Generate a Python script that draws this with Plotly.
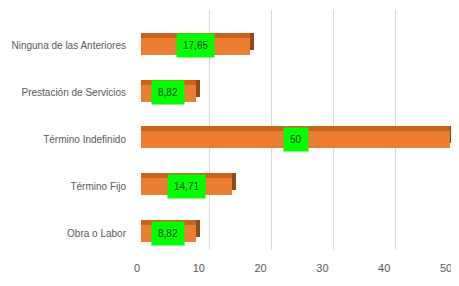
import plotly.graph_objects as go

categories = ["Obra o Labor", "Término Fijo", "Término Indefinido",
              "Prestación de Servicios", "Ninguna de las Anteriores"]
values = [8.82, 14.71, 50, 8.82, 17.65]
value_labels = ["8,82", "14,71", "50", "8,82", "17,65"]
tick_vals = [0, 10, 20, 30, 40, 50]

W, H = 459, 286
OFF = 8  # page body margin
def px_x(a, b):
    return [(a - OFF) / W, (b - OFF) / W]
def px_y(top, bottom):
    return [1 - (bottom - OFF) / H, 1 - (top - OFF) / H]

FONT = "Liberation Sans Narrow, Liberation Sans, Arial"
GREY = "#595959"
ORANGE = "#ED7D31"
TOP = "#C9641F"
SIDE = "#8E4A1A"

fig = go.Figure()

# back wall grid (invisible trace to anchor axis)
fig.add_trace(go.Scatter(x=[0, 50], y=[0, 0], mode="markers", marker=dict(opacity=0),
                         xaxis="x", yaxis="y", hoverinfo="skip", showlegend=False))
# side face (depth)
fig.add_trace(go.Bar(y=categories, x=values, orientation="h", marker=dict(color=SIDE, line=dict(width=0)),
                     width=0.36, xaxis="x2", yaxis="y2", showlegend=False, hoverinfo="skip"))
# top face
fig.add_trace(go.Bar(y=categories, x=values, orientation="h", marker=dict(color=TOP, line=dict(width=0)),
                     width=0.36, xaxis="x3", yaxis="y3", showlegend=False, hoverinfo="skip"))
# front bars
fig.add_trace(go.Bar(y=categories, x=values, orientation="h", marker=dict(color=ORANGE, line=dict(width=0)),
                     width=0.36, xaxis="x4", yaxis="y4", showlegend=False))

for c, v, t in zip(categories, values, value_labels):
    fig.add_annotation(x=v / 2, y=c, xref="x4", yref="y4", text=t, showarrow=False,
                       bgcolor="#00FF00", borderpad=6,
                       font=dict(family=FONT, size=10, color="#1E3A1E"))

hidden = dict(showgrid=False, zeroline=False, showticklabels=False, showline=False,
              ticks="", automargin=False)
cat_axis = dict(range=[-0.5, 4.5], type="category", categoryorder="array", categoryarray=categories)

fig.update_layout(
    template="none",
    width=W, height=H,
    margin=dict(l=0, r=0, t=0, b=0),
    paper_bgcolor="white", plot_bgcolor="rgba(0,0,0,0)",
    bargap=0,
    xaxis=dict(domain=px_x(148, 457), range=[0, 50], tickvals=tick_vals, showgrid=True,
               gridcolor="#D9D9D9", gridwidth=1, zeroline=False, showticklabels=False,
               showline=False, ticks="", anchor="y", automargin=False),
    yaxis=dict(domain=px_y(10, 250), range=[0, 1], anchor="x", **hidden),
    xaxis2=dict(domain=px_x(145, 454), range=[0, 50], anchor="y2", **hidden),
    yaxis2=dict(domain=px_y(17.6, 251.4), anchor="x2", **cat_axis, **hidden),
    xaxis3=dict(domain=px_x(141, 450), range=[0, 50], anchor="y3", **hidden),
    yaxis3=dict(domain=px_y(17.6, 251.4), anchor="x3", **cat_axis, **hidden),
    xaxis4=dict(domain=px_x(141, 450), range=[0, 50], tickvals=tick_vals, showgrid=False, zeroline=False,
                showline=False, ticks="", anchor="y4", ticklabelshift=-4, ticklabelstandoff=4,
                automargin=False, tickfont=dict(family=FONT, size=11, color=GREY)),
    yaxis4=dict(domain=px_y(22.6, 256.4), showgrid=False, zeroline=False, showline=False,
                anchor="x4", ticks="", ticklabelstandoff=14, automargin=False,
                tickfont=dict(family=FONT, size=10, color=GREY), **cat_axis),
)

fig.write_html("out.html")
